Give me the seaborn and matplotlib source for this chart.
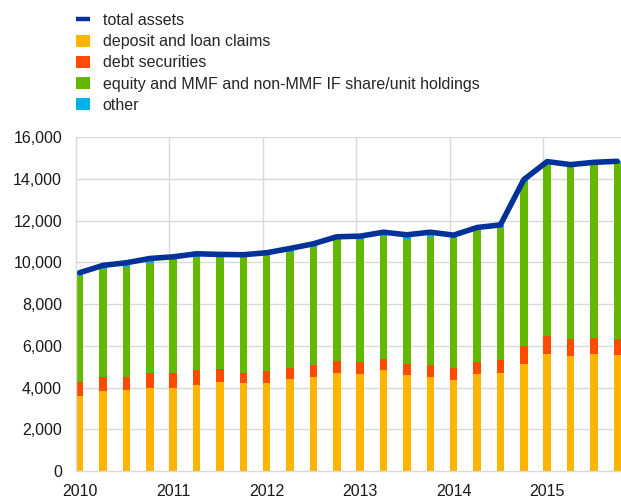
import numpy as np
import pandas as pd
import matplotlib
matplotlib.use("Agg")
import matplotlib.pyplot as plt
from matplotlib.lines import Line2D
from matplotlib.patches import Patch
import seaborn as sns

# Quarterly holdings, 2010 Q1 - 2015 Q4 (EUR billions)
quarters = [f"{y}Q{q}" for y in range(2010, 2016) for q in range(1, 5)]
year_labels = ["2010", "2011", "2012", "2013", "2014", "2015"]

deposit_loan = [3600, 3830, 3890, 3990, 3990, 4130, 4260, 4210, 4240, 4400, 4510, 4720,
                4670, 4830, 4590, 4530, 4370, 4640, 4700, 5150, 5630, 5520, 5600, 5550]
debt_securities = [650, 670, 640, 700, 700, 720, 640, 510, 540, 530, 570, 575,
                   545, 560, 525, 560, 575, 605, 620, 845, 830, 830, 780, 780]
equity_funds = [5120, 5170, 5260, 5300, 5420, 5420, 5375, 5520, 5580, 5580, 5660, 5775,
                5850, 5900, 5950, 6140, 6220, 6300, 6350, 7880, 8250, 8230, 8290, 8440]
other = [140, 190, 195, 200, 160, 145, 110, 130, 105, 160, 155, 160,
         195, 160, 260, 220, 145, 130, 130, 95, 125, 110, 130, 80]
total_assets = [9510, 9860, 9985, 10190, 10270, 10415, 10385, 10370, 10465, 10670, 10895, 11230,
                11260, 11450, 11325, 11450, 11310, 11675, 11800, 13970, 14835, 14690, 14800, 14850]

C_TOTAL = "#003299"
C_DEP = "#ffb400"
C_DEBT = "#ff4b00"
C_EQ = "#65b800"
C_OTHER = "#00b1ea"
GRID = "#d9d9d9"
FS = 11.5

df = pd.DataFrame({
    "quarter": quarters,
    "deposit": deposit_loan,
    "debt": debt_securities,
    "equity": equity_funds,
    "other": other,
    "total": total_assets,
})
df["pos"] = np.arange(len(df))

# cumulative tops of the stacked segments, drawn tallest first
layers = [
    ("other", C_OTHER, df["deposit"] + df["debt"] + df["equity"] + df["other"]),
    ("equity", C_EQ, df["deposit"] + df["debt"] + df["equity"]),
    ("debt", C_DEBT, df["deposit"] + df["debt"]),
    ("deposit", C_DEP, df["deposit"]),
]

sns.set_theme(style="white")
plt.rcParams["font.family"] = ["Liberation Sans", "DejaVu Sans"]

fig = plt.figure(figsize=(6.21, 4.97), dpi=100)
ax = fig.add_axes([76 / 621, 1 - 471 / 497, 1 - 76 / 621, (471 - 137.3) / 497])

bar_w = 0.32
for name, color, top in layers:
    sns.barplot(x=df["pos"], y=top, color=color, width=bar_w, linewidth=0,
                saturation=1, ax=ax, zorder=2)

sns.lineplot(x=df["pos"], y=df["total"], color=C_TOTAL, linewidth=4.0,
             ax=ax, zorder=3, solid_capstyle="round", solid_joinstyle="round")

ax.set_xlim(-bar_w / 2, len(df) - 1 + bar_w / 2)
ax.set_ylim(0, 16000)
ax.set_yticks(np.arange(0, 16001, 2000))
ax.set_yticklabels([f"{v:,}" for v in range(0, 16001, 2000)])
ax.set_xticks(np.arange(0, len(df), 4))
ax.set_xticklabels(year_labels)
ax.set_xlabel("")
ax.set_ylabel("")

# grid: horizontal at every tick, vertical at year boundaries
ax.set_axisbelow(True)
for v in range(2000, 16001, 2000):
    ax.axhline(v, color=GRID, linewidth=1.0, zorder=0)
for k in range(1, 6):
    ax.axvline(4 * k - bar_w / 2, color=GRID, linewidth=1.0, zorder=0)

for side in ["top", "right"]:
    ax.spines[side].set_visible(False)
for side in ["left", "bottom"]:
    ax.spines[side].set_color(GRID)
    ax.spines[side].set_linewidth(1.0)

ax.tick_params(axis="both", length=0, labelsize=FS, colors="#1a1a1a")
ax.tick_params(axis="y", pad=10)
ax.tick_params(axis="x", pad=9.5)

handles = [
    Line2D([0], [0], color=C_TOTAL, linewidth=3.2, solid_capstyle="butt"),
    Patch(facecolor=C_DEP, edgecolor="none"),
    Patch(facecolor=C_DEBT, edgecolor="none"),
    Patch(facecolor=C_EQ, edgecolor="none"),
    Patch(facecolor=C_OTHER, edgecolor="none"),
]
labels = [
    "total assets",
    "deposit and loan claims",
    "debt securities",
    "equity and MMF and non-MMF IF share/unit holdings",
    "other",
]
fig.legend(handles, labels, loc="upper left", bbox_to_anchor=(76 / 621, 1 - 13 / 497),
           frameon=False, fontsize=FS, handlelength=0.875, handleheight=0.8,
           handletextpad=0.8, labelspacing=0.39, borderpad=0, borderaxespad=0)

fig.savefig("out.png", dpi=100)
